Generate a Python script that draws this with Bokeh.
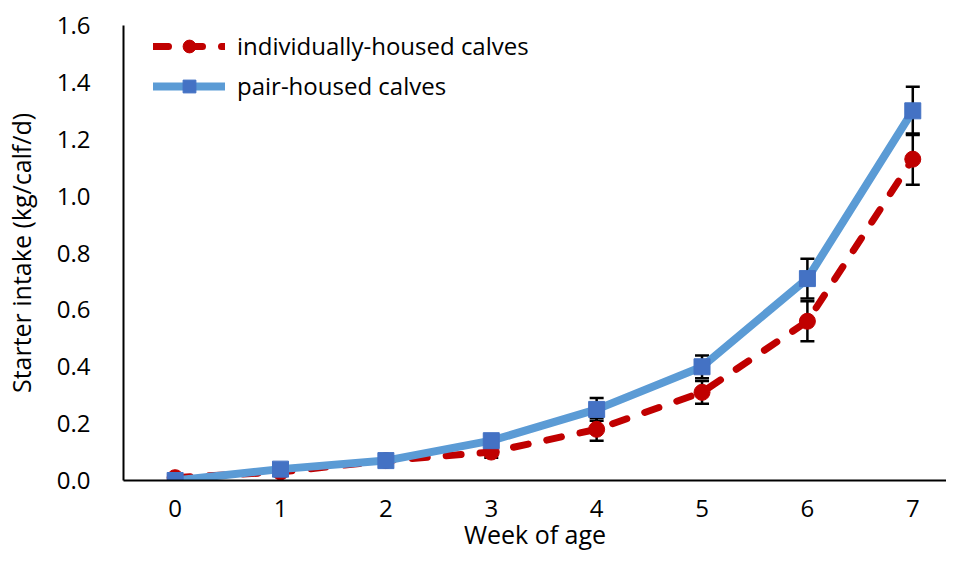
from bokeh.plotting import figure
from bokeh.models import (ColumnDataSource, Whisker, TeeHead, Legend, LegendItem, FixedTicker,
                          Range1d, CustomJSTickFormatter)
from bokeh.embed import file_html
from bokeh.resources import INLINE

weeks = [0, 1, 2, 3, 4, 5, 6, 7]
individual = [0.01, 0.03, 0.07, 0.10, 0.18, 0.31, 0.56, 1.13]
individual_se = [0.005, 0.005, 0.01, 0.02, 0.04, 0.04, 0.07, 0.09]
pair = [0.00, 0.04, 0.07, 0.14, 0.25, 0.40, 0.71, 1.30]
pair_se = [0.005, 0.005, 0.01, 0.02, 0.04, 0.04, 0.07, 0.085]
y_ticks = [0.0, 0.2, 0.4, 0.6, 0.8, 1.0, 1.2, 1.4, 1.6]

FONT = "Open Sans"

p = figure(width=946, height=553, output_backend="svg", toolbar_location=None,
           x_range=Range1d(-0.49, 7.32), y_range=Range1d(0, 1.6),
           min_border_left=118, min_border_right=0, min_border_top=25, min_border_bottom=73)
p.outline_line_color = None
p.xgrid.visible = False
p.ygrid.visible = False

src_i = ColumnDataSource(dict(x=weeks, y=individual,
                              lo=[v - e for v, e in zip(individual, individual_se)],
                              hi=[v + e for v, e in zip(individual, individual_se)]))
src_p = ColumnDataSource(dict(x=weeks, y=pair,
                              lo=[v - e for v, e in zip(pair, pair_se)],
                              hi=[v + e for v, e in zip(pair, pair_se)]))

for src in (src_i, src_p):
    w = Whisker(base="x", upper="hi", lower="lo", source=src, line_color="black", line_width=2.5,
                upper_head=TeeHead(size=14, line_color="black", line_width=2.5),
                lower_head=TeeHead(size=14, line_color="black", line_width=2.5))
    w.level = "underlay"
    p.add_layout(w)

l_i = p.line("x", "y", source=src_i, line_color="#C00000", line_width=7, line_dash="15 19", line_cap="round")
m_i = p.scatter("x", "y", source=src_i, marker="circle", size=16, fill_color="#C00000", line_color="#C00000")
l_p = p.line("x", "y", source=src_p, line_color="#5B9BD5", line_width=8, line_join="round", line_cap="round")
m_p = p.scatter("x", "y", source=src_p, marker="square", size=16, fill_color="#4472C4", line_color="#4472C4")

p.xaxis.ticker = FixedTicker(ticks=weeks)
p.yaxis.ticker = FixedTicker(ticks=y_ticks)
p.yaxis.formatter = CustomJSTickFormatter(code="return tick.toFixed(1);")
for ax in (p.xaxis[0], p.yaxis[0]):
    ax.major_tick_line_color = None
    ax.minor_tick_line_color = None
    ax.axis_line_color = "black"
    ax.axis_line_width = 2
    ax.major_label_text_font = FONT
    ax.major_label_text_font_size = "24px"
    ax.major_label_text_color = "black"
    ax.axis_label_text_font = FONT
    ax.axis_label_text_font_size = "25px"
    ax.axis_label_text_font_style = "normal"
    ax.axis_label_text_color = "black"
p.xaxis.axis_label = "Week of age"
p.yaxis.axis_label = "Starter intake (kg/calf/d)"
p.xaxis.major_label_standoff = 13
p.xaxis.axis_label_standoff = -3
p.yaxis.major_label_standoff = 27
p.yaxis.axis_label_standoff = 16

legend = Legend(items=[LegendItem(label="individually-housed calves", renderers=[l_i, m_i]),
                       LegendItem(label="pair-housed calves", renderers=[l_p, m_p])],
                location=(30, 378), padding=0, spacing=7, label_height=32, glyph_height=32,
                glyph_width=72, label_standoff=12, border_line_color=None, background_fill_alpha=0,
                label_text_font=FONT, label_text_font_size="24px", label_text_color="black")
p.add_layout(legend)

open("out.html", "w").write(file_html(p, INLINE))
